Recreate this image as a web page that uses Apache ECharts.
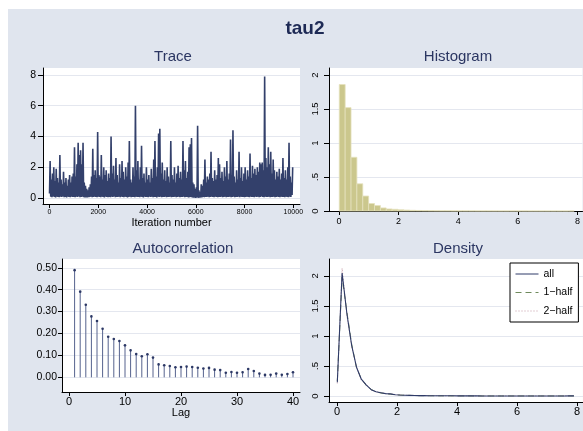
<!DOCTYPE html>
<html><head><meta charset="utf-8">
<script src="https://cdn.jsdelivr.net/npm/echarts@6/dist/echarts.min.js"></script>
<style>html,body{margin:0;padding:0;background:#fff}#c{width:583px;height:431px}</style>
</head><body><div id="c"></div>
<script>
// ---------- data ----------
const traceStep = 50; // iterations per column
const traceHigh = [
2.4,1.2,1.6,2.0,1.1,1.9,1.3,1.0,2.8,1.2,
0.9,1.7,1.0,1.3,0.8,1.2,1.5,1.0,1.4,1.6,
3.3,1.4,2.2,3.6,2.8,3.1,2.2,3.6,1.0,0.8,
0.6,0.5,0.7,0.9,1.4,3.2,1.5,1.8,1.3,4.3,
1.5,1.4,2.8,1.2,2.0,1.5,1.8,1.1,1.6,1.3,
4.0,1.6,2.1,1.2,2.6,1.5,1.0,2.2,1.3,2.4,
1.7,1.2,2.0,1.4,2.3,3.7,1.2,1.0,2.0,1.4,
6.0,1.8,2.4,1.2,2.0,3.4,1.3,1.6,1.0,2.0,
1.2,1.5,1.0,1.9,1.3,2.5,3.7,1.4,2.0,4.2,
4.5,1.6,2.3,1.2,1.8,1.1,2.0,1.4,1.0,3.7,
1.5,1.2,2.0,1.0,1.6,2.1,1.3,1.7,1.2,3.7,
1.8,2.4,1.3,1.7,3.3,3.5,3.9,1.0,0.9,0.6,
0.7,4.7,0.5,0.4,0.9,0.8,1.2,2.5,1.0,1.4,
1.2,1.6,3.0,1.3,1.1,1.8,1.2,1.5,2.6,2.2,
1.3,1.7,1.1,2.0,1.4,2.4,1.2,1.6,3.8,1.5,
4.4,1.4,1.0,1.8,1.2,3.0,1.3,2.0,1.1,1.6,
2.0,1.2,1.8,1.4,2.9,1.3,2.1,1.6,1.9,1.5,
2.0,1.7,2.3,2.2,2.3,1.8,7.9,2.6,2.0,3.3,
2.2,3.0,1.6,2.5,1.8,1.2,1.7,1.4,1.9,1.2,
1.6,2.6,1.3,1.8,1.2,2.0,3.6,1.4,1.0,2.0];
const traceLow = [
0.30,0.08,0.05,0.10,0.06,0.04,0.09,0.07,0.05,0.08,
0.06,0.10,0.05,0.07,0.04,0.09,0.06,0.05,0.08,0.06,
0.07,0.05,0.09,0.06,0.10,0.05,0.07,0.08,0.05,0.04,
0.03,0.04,0.05,0.06,0.08,0.05,0.07,0.09,0.06,0.05,
0.08,0.06,0.05,0.09,0.07,0.04,0.08,0.06,0.05,0.07,
0.05,0.08,0.06,0.10,0.05,0.07,0.06,0.09,0.05,0.08,
0.06,0.05,0.08,0.07,0.04,0.06,0.09,0.05,0.07,0.06,
0.05,0.08,0.06,0.07,0.05,0.09,0.06,0.04,0.08,0.06,
0.07,0.05,0.09,0.06,0.08,0.05,0.07,0.06,0.04,0.08,
0.06,0.09,0.05,0.07,0.06,0.08,0.05,0.07,0.06,0.09,
0.05,0.07,0.06,0.08,0.05,0.06,0.09,0.05,0.07,0.06,
0.08,0.05,0.07,0.06,0.04,0.05,0.06,0.03,0.02,0.02,
0.01,0.03,0.01,0.02,0.03,0.04,0.06,0.05,0.07,0.06,
0.08,0.05,0.07,0.09,0.06,0.05,0.08,0.07,0.05,0.06,
0.07,0.09,0.05,0.06,0.08,0.05,0.07,0.06,0.09,0.05,
0.06,0.08,0.05,0.07,0.06,0.09,0.05,0.08,0.06,0.07,
0.05,0.07,0.09,0.06,0.05,0.08,0.06,0.07,0.05,0.09,
0.06,0.08,0.05,0.07,0.10,0.06,0.05,0.08,0.06,0.07,
0.09,0.05,0.07,0.06,0.08,0.05,0.07,0.09,0.06,0.05,
0.08,0.06,0.07,0.05,0.09,0.06,0.05,0.08,0.07,0.20];

const histStart = 0.01, histWidth = 0.197;
const histHeights = [1.86,1.52,0.79,0.40,0.22,0.11,0.08,0.045,0.03,0.025,
0.018,0.014,0.010,0.008,0.006,0.005,0.004,0.003,0.003,0.002,
0.002,0.002,0.0015,0.001,0.001,0.001,0.0008,0.0006,0.0005,0.0005,
0.0005,0.0005,0.0003,0.0003,0.0002,0.0002,0.0002,0.0002,0.0,0.0005];

const acfLags = [1,2,3,4,5,6,7,8,9,10,11,12,13,14,15,16,17,18,19,20,21,22,23,24,25,26,27,28,29,30,31,32,33,34,35,36,37,38,39,40];
const acfValues = [0.489,0.391,0.331,0.278,0.257,0.222,0.185,0.175,0.166,0.146,
0.123,0.106,0.096,0.105,0.090,0.059,0.055,0.052,0.046,0.047,
0.049,0.047,0.044,0.040,0.043,0.035,0.033,0.021,0.024,0.021,
0.023,0.038,0.029,0.017,0.011,0.012,0.017,0.012,0.015,0.023];

const densX = [0.01,0.17,0.33,0.49,0.65,0.81,0.98,1.14,1.30,1.46,
1.62,1.78,1.94,2.10,2.26,2.43,2.59,2.75,2.91,3.07,
3.23,3.39,3.55,3.71,3.88,4.04,4.20,4.36,4.52,4.68,
4.84,5.00,5.16,5.33,5.49,5.65,5.81,5.97,6.13,6.29,
6.45,6.61,6.78,6.94,7.10,7.26,7.42,7.58,7.74,7.90];
const densAll = [0.23,2.05,1.37,0.84,0.48,0.28,0.18,0.105,0.07,0.055,
0.04,0.035,0.022,0.016,0.012,0.010,0.008,0.007,0.006,0.005,
0.004,0.004,0.003,0.003,0.003,0.002,0.002,0.002,0.002,0.002,
0.001,0.001,0.001,0.001,0.001,0.001,0.001,0.001,0.001,0.001,
0.001,0.001,0.001,0.001,0.001,0.001,0.001,0.001,0.002,0.002];
const densHalf1 = [0.25,1.98,1.40,0.86,0.47,0.29,0.17,0.11,0.07,0.05,
0.04,0.03,0.020,0.015,0.012,0.010,0.008,0.006,0.005,0.005,
0.004,0.003,0.003,0.003,0.002,0.002,0.002,0.002,0.001,0.001,
0.001,0.001,0.001,0.001,0.001,0.001,0.001,0.001,0.001,0.001,
0.001,0.001,0.001,0.001,0.001,0.001,0.001,0.001,0.001,0.001];
const densHalf2 = [0.21,2.13,1.34,0.82,0.49,0.27,0.19,0.10,0.07,0.06,
0.04,0.04,0.024,0.017,0.013,0.010,0.009,0.007,0.006,0.005,
0.005,0.004,0.004,0.003,0.003,0.003,0.002,0.002,0.002,0.002,
0.002,0.001,0.001,0.001,0.001,0.001,0.001,0.001,0.001,0.001,
0.001,0.001,0.001,0.001,0.001,0.001,0.002,0.002,0.003,0.003];

const traceXTicks = [0,2000,4000,6000,8000,10000];
const traceYTicks = [0,2,4,6,8];
const histXTicks = [0,2,4,6,8];
const histYTicks = [0,0.5,1,1.5,2];
const acfXTicks = [0,10,20,30,40];
const acfYTicks = [0,0.1,0.2,0.3,0.4,0.5];
const densXTicks = [0,2,4,6,8];
const densYTicks = [0,0.5,1,1.5,2];
const legendNames = ['all','1\u2212half','2\u2212half'];

// ---------- build ----------
const FONT = "'Liberation Sans', Arial, Helvetica, sans-serif";
const traceData = [];
for (let k = 0; k < traceHigh.length; k++) {
  traceData.push([k * traceStep, traceLow[k]]);
  traceData.push([k * traceStep + traceStep / 2, traceHigh[k]]);
}
const histData = histHeights.map((h, i) => [histStart + i * histWidth, histStart + (i + 1) * histWidth, h]);
const acfData = acfLags.map((l, i) => [l, acfValues[i]]);
const pair = (xs, ys) => xs.map((x, i) => [x, ys[i]]);
const stataFmt = v => v === 0 ? '0' : String(v).replace(/^0\./, '.');

function xAx(gi, min, max, ticks, fmt, fs, margin, tickLen, name, nameGap) {
  const a = {
    type: 'value', gridIndex: gi, min, max, position: 'bottom',
    axisLine: { show: true, onZero: false, lineStyle: { color: '#000', width: 1 } },
    axisTick: { show: true, length: tickLen, customValues: ticks, lineStyle: { color: '#000', width: 1 } },
    axisLabel: { customValues: ticks, formatter: fmt, fontSize: fs, color: '#000', margin, fontFamily: FONT },
    splitLine: { show: false }
  };
  if (name) {
    a.name = name; a.nameLocation = 'middle'; a.nameGap = nameGap;
    a.nameTextStyle = { fontSize: 11, color: '#000', fontFamily: FONT };
  }
  return a;
}
function yAx(gi, min, max, ticks, fmt, fs, margin, tickLen, rotate) {
  return {
    type: 'value', gridIndex: gi, min, max, position: 'left',
    axisLine: { show: true, onZero: false, lineStyle: { color: '#000', width: 1 } },
    axisTick: { show: true, length: tickLen, customValues: ticks, lineStyle: { color: '#000', width: 1 } },
    axisLabel: { customValues: ticks, formatter: fmt, fontSize: fs, color: '#000', margin, rotate: rotate || 0, fontFamily: FONT },
    splitLine: { show: true, lineStyle: { color: '#e4e7ef', width: 1 } }
  };
}

const chart = echarts.init(document.getElementById('c'), null, { renderer: 'canvas' });
chart.setOption({
  animation: false,
  backgroundColor: '#fff',
  textStyle: { fontFamily: FONT },
  graphic: [
    { type: 'rect', z: -10, silent: true, shape: { x: 8, y: 9, width: 575, height: 422 }, style: { fill: '#e0e5ee' } },
    { type: 'text', style: { x: 305, y: 29, text: 'tau2', textAlign: 'center', textVerticalAlign: 'middle', font: 'bold 19px ' + FONT, fill: '#1e2a55' } },
    { type: 'text', style: { x: 173, y: 57, text: 'Trace', textAlign: 'center', textVerticalAlign: 'middle', font: '15px ' + FONT, fill: '#2b3662' } },
    { type: 'text', style: { x: 458, y: 57, text: 'Histogram', textAlign: 'center', textVerticalAlign: 'middle', font: '15px ' + FONT, fill: '#2b3662' } },
    { type: 'text', style: { x: 183, y: 248.5, text: 'Autocorrelation', textAlign: 'center', textVerticalAlign: 'middle', font: '15px ' + FONT, fill: '#2b3662' } },
    { type: 'text', style: { x: 458, y: 248.5, text: 'Density', textAlign: 'center', textVerticalAlign: 'middle', font: '15px ' + FONT, fill: '#2b3662' } }
  ],
  grid: [
    { left: 43, top: 68, width: 257, height: 136, show: true, backgroundColor: '#fff', borderWidth: 0 },
    { left: 329, top: 68, width: 254, height: 143, show: true, backgroundColor: '#fff', borderWidth: 0 },
    { left: 62, top: 259, width: 238, height: 133, show: true, backgroundColor: '#fff', borderWidth: 0 },
    { left: 329, top: 259, width: 254, height: 143, show: true, backgroundColor: '#fff', borderWidth: 0 }
  ],
  xAxis: [
    xAx(0, -267, 10275, traceXTicks, v => String(v), 7, 5, 4, 'Iteration number', 13),
    xAx(1, -0.335, 8.168, histXTicks, v => String(v), 9, 6, 4),
    xAx(2, -1.25, 41.25, acfXTicks, v => String(v), 11, 4, 4, 'Lag', 15),
    xAx(3, -0.267, 8.2, densXTicks, v => String(v), 11, 4, 4)
  ],
  yAxis: [
    yAx(0, -0.39, 8.455, traceYTicks, v => String(v), 10.5, 7, 5),
    yAx(1, 0, 2.103, histYTicks, stataFmt, 9.5, 9, 5, 90),
    yAx(2, -0.067, 0.54, acfYTicks, v => v.toFixed(2), 10.5, 5, 4),
    yAx(3, -0.1, 2.283, densYTicks, stataFmt, 9.5, 9, 5, 90)
  ],
  legend: {
    data: legendNames, orient: 'vertical', left: 510, top: 263,
    itemWidth: 23, itemHeight: 10, itemGap: 7.5,
    padding: [5.5, 6, 5.5, 5],
    backgroundColor: '#fff', borderColor: '#000', borderWidth: 1, borderRadius: 0,
    itemStyle: { opacity: 0 },
    lineStyle: { width: 1 },
    textStyle: { fontSize: 10.5, color: '#000', fontFamily: FONT },
    selectedMode: false
  },
  series: [
    { type: 'line', xAxisIndex: 0, yAxisIndex: 0, data: traceData, symbol: 'none', showSymbol: false,
      lineStyle: { color: '#33406b', width: 1.6, join: 'bevel' }, clip: true },
    { type: 'custom', xAxisIndex: 1, yAxisIndex: 1, data: histData, encode: { x: [0, 1], y: 2 },
      renderItem: (params, api) => {
        const p0 = api.coord([api.value(0), api.value(2)]);
        const p1 = api.coord([api.value(1), 0]);
        return { type: 'rect', shape: { x: p0[0], y: p0[1], width: p1[0] - p0[0], height: p1[1] - p0[1] },
          style: { fill: '#cbc78d', stroke: '#e4e1bd', lineWidth: 0.8 } };
      } },
    { type: 'custom', xAxisIndex: 2, yAxisIndex: 2, data: acfData, encode: { x: 0, y: 1 },
      renderItem: (params, api) => {
        const top = api.coord([api.value(0), api.value(1)]);
        const base = api.coord([api.value(0), 0]);
        return { type: 'group', children: [
          { type: 'line', shape: { x1: base[0], y1: base[1], x2: top[0], y2: top[1] }, style: { stroke: '#56638e', lineWidth: 1 } },
          { type: 'circle', shape: { cx: top[0], cy: top[1], r: 1.3 }, style: { fill: '#2c3865' } }
        ] };
      } },
    { name: legendNames[1], type: 'line', xAxisIndex: 3, yAxisIndex: 3, data: pair(densX, densHalf1), symbol: 'none', showSymbol: false, z: 2,
      lineStyle: { color: '#6f8a5c', width: 1, type: [6, 4] }, itemStyle: { color: '#6f8a5c' } },
    { name: legendNames[2], type: 'line', xAxisIndex: 3, yAxisIndex: 3, data: pair(densX, densHalf2), symbol: 'none', showSymbol: false, z: 2,
      lineStyle: { color: '#c49aa6', width: 1, type: [1, 2] }, itemStyle: { color: '#c49aa6' } },
    { name: legendNames[0], type: 'line', xAxisIndex: 3, yAxisIndex: 3, data: pair(densX, densAll), symbol: 'none', showSymbol: false, z: 3,
      lineStyle: { color: '#2f3b68', width: 1.1 }, itemStyle: { color: '#2f3b68' } }
  ]
});
</script></body></html>
